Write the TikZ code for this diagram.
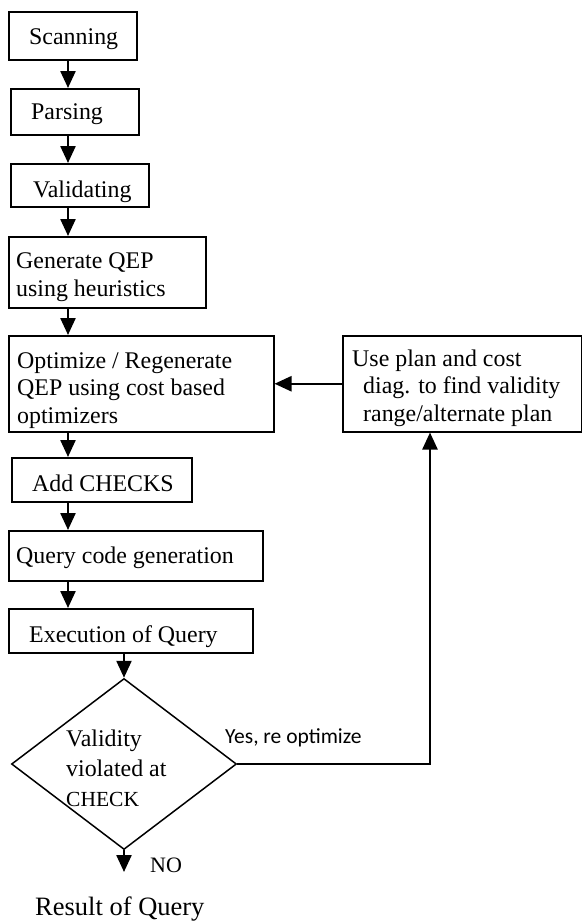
\documentclass[tikz,border=0pt]{standalone}
\usepackage{fontspec}
\setmainfont{Liberation Serif}
\newfontfamily\sanslabel{Carlito}
\usetikzlibrary{shapes.geometric,arrows.meta}

% process box given by name, left, top, right, bottom
\newcommand\flowbox[5]{%
  \node[box, minimum width={#4-#2}, minimum height={#5-#3}] (#1) at (#2,#3) {};}

\begin{document}
\begin{tikzpicture}[x=1pt,y=-1pt,
  box/.style={draw, line width=1.5pt, rectangle, inner sep=0pt, anchor=north west},
  txt/.style={inner sep=0pt, anchor=base west, align=left,
              font=\fontsize{23.9}{27.5}\selectfont},
  arr/.style={line width=2.4pt, -{Triangle[length=17pt,width=15pt]}}]
\useasboundingbox (0,0) rectangle (582,922);

% process boxes
\flowbox{scan}{8}{11}{136}{59}
\flowbox{parse}{10}{88}{138}{134}
\flowbox{valid}{10}{163}{148}{206}
\flowbox{gen}{8}{236}{205}{307}
\flowbox{opt}{8}{335}{273}{431}
\flowbox{add}{11}{457}{191}{501}
\flowbox{qcg}{8}{530}{262}{580}
\flowbox{exec}{8}{608}{252}{652}
\flowbox{use}{342}{335}{580.5}{431}

% box texts (multi-line texts are placed by the baseline of their last line)
\node[txt] (scan-t) at (29,44) {Scanning};
\node[txt] (parse-t) at (31,119) {Parsing};
\node[txt] (valid-t) at (33,197) {Validating};
\node[txt] (gen-t) at (16,296) {Generate QEP\\using heuristics};
\node[txt] (opt-t) at (17,423) {Optimize / Regenerate\\QEP using cost based\\optimizers};
\node[txt] (add-t) at (32,491) {Add CHECKS};
\node[txt] (qcg-t) at (16,563) {Query code generation};
\node[txt] (exec-t) at (29,642) {Execution of Query};
\node[txt] (use-t) at (352,421) {Use plan and cost\\\hspace*{11pt}diag. to find validity\\\hspace*{11pt}range/alternate plan};

% decision
\node[draw, diamond, line width=1.5pt, inner sep=0pt,
      minimum width=225pt, minimum height=171pt] (dia) at (124,764) {};
\node[txt, font=\fontsize{23.9}{30}\selectfont] (dia-t) at (66,806)
  {Validity\\violated at\\{\fontsize{21.5}{30}\selectfont CHECK}};

% connector helpers
\coordinate (axisL) at (68,0);
\coordinate (ret) at (430,0);
\coordinate (noend) at (124,872);

% main flow
\draw[arr] (scan.south -| axisL) -- (parse.north -| axisL);
\draw[arr] (parse.south -| axisL) -- (valid.north -| axisL);
\draw[arr] (valid.south -| axisL) -- (gen.north -| axisL);
\draw[arr] (gen.south -| axisL) -- (opt.north -| axisL);
\draw[arr] (opt.south -| axisL) -- (add.north -| axisL);
\draw[arr] (add.south -| axisL) -- (qcg.north -| axisL);
\draw[arr] (qcg.south -| axisL) -- (exec.north -| axisL);
\draw[arr] (exec.south -| dia.north) -- (dia.north);

% feedback loop
\draw[arr] (dia.east) -| (use.south -| ret);
\draw[arr] (use.west) -- (opt.east);
\node[inner sep=0pt, anchor=base west, font=\sanslabel\fontsize{21.5}{25}\selectfont]
  (yes) at (225,743) {Yes, re optimize};

% exit
\draw[arr] (dia.south) -- (noend);
\node[inner sep=0pt, anchor=base west, font=\fontsize{22}{26}\selectfont] (no) at (150,872) {NO};
\node[inner sep=0pt, anchor=base west, font=\fontsize{26.5}{30}\selectfont] (res) at (35,915) {Result of Query};
\end{tikzpicture}
\end{document}
